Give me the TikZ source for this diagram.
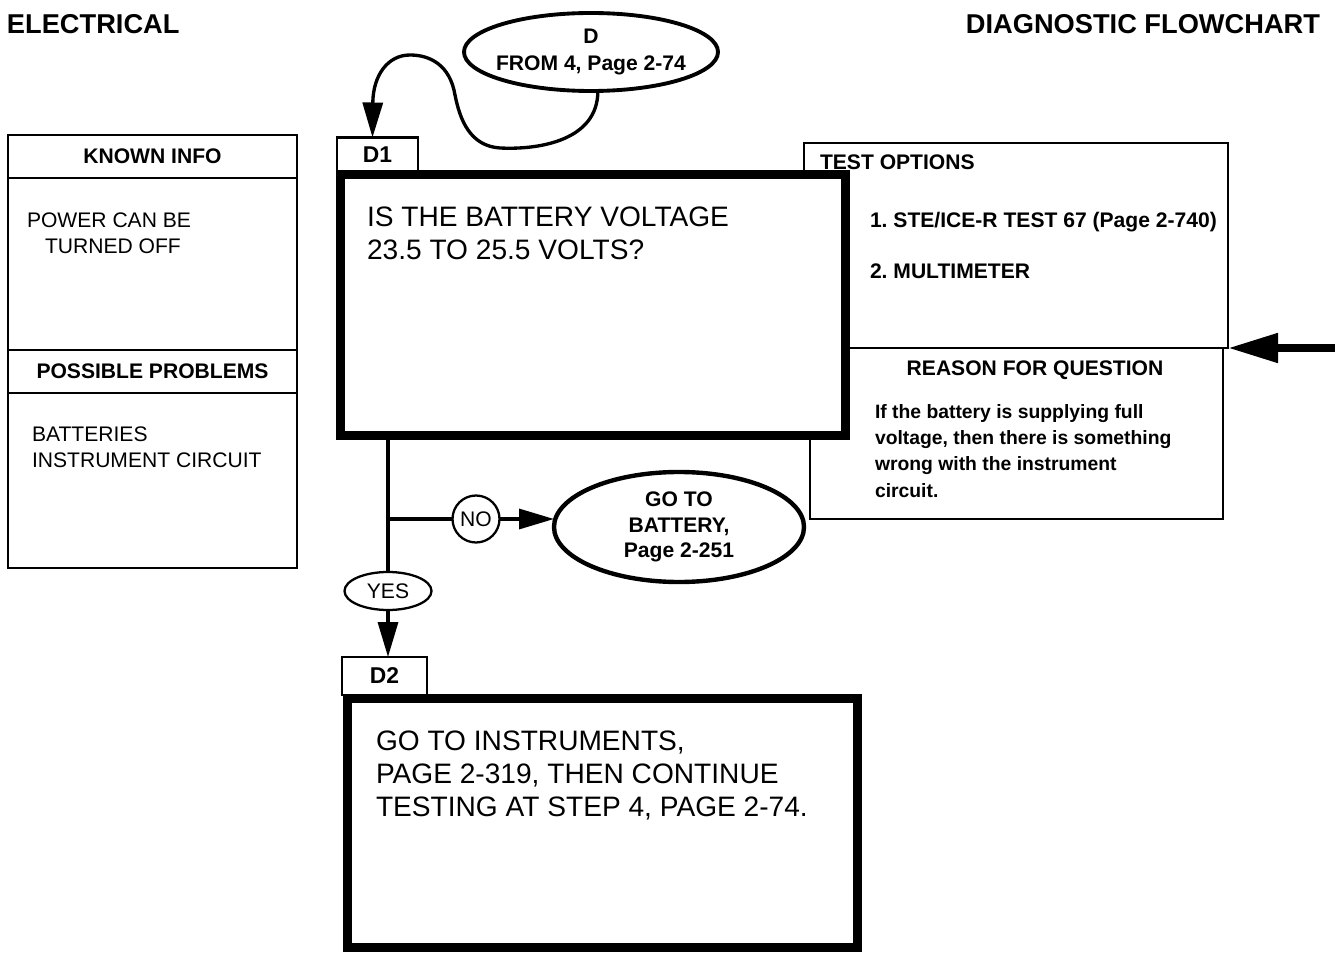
\documentclass[tikz,border=0pt]{standalone}
\usepackage{fontspec}
\setmainfont{Liberation Sans}
\usetikzlibrary{arrows.meta, positioning, shapes.geometric}

\newcommand{\fsz}[2]{\fontsize{#1}{#2}\selectfont}

\begin{document}
\begin{tikzpicture}[
        x=0.2mm, y=-0.2mm,
        every node/.style={align=center, inner sep=0pt, outer sep=0pt},
        heading/.style={font=\bfseries\fsz{15.5}{18}},
        question/.style={rectangle, draw, line width=5pt, fill=white},
        steptab/.style={rectangle, draw, line width=1.4pt, fill=white,
                        font=\bfseries\fsz{13}{15}},
        infobox/.style={rectangle, draw, line width=1.3pt, fill=white},
        infohead/.style={font=\bfseries\fsz{12}{14}},
        infotext/.style={font=\fsz{12}{14.7}, align=left},
        bigtext/.style={font=\fsz{16}{18.7}, align=left},
        entry/.style={ellipse, draw, line width=2.2pt, fill=white,
                      font=\bfseries\fsz{12}{15.3}},
        answer/.style={ellipse, draw, line width=1.3pt, fill=white,
                       font=\fsz{12}{14}},
        link/.style={line width=1.9pt},
        arrow/.style={line width=1.9pt, -{Triangle[length=7mm, width=4mm]}},
        bigarrow/.style={line width=4.5pt, -{Triangle[length=10mm, width=5.6mm]}}
    ]
        \useasboundingbox (0,0) rectangle (1335,954);

        % Page headings
        \node[heading, anchor=west] (elec) at (7,24) {ELECTRICAL};
        \node[heading, anchor=east] (diag) at (1320,24) {DIAGNOSTIC FLOWCHART};

        % Entry from step 4
        \node[entry, inner xsep=-6pt, minimum width=50.8mm, minimum height=15.6mm]
            (dfrom) at (591,52) {D\\FROM 4, Page 2-74};

        % Left column: known info / possible problems
        \node[infobox, infohead, minimum width=57.8mm, minimum height=8.6mm]
            (knownhd) at (152.5,156.5) {KNOWN INFO};
        \node[infobox, minimum width=57.8mm, minimum height=34.4mm, below=0pt of knownhd] (knownbody) {};
        \node[infobox, infohead, minimum width=57.8mm, minimum height=8.6mm, below=0pt of knownbody]
            (probhd) {POSSIBLE PROBLEMS};
        \node[infobox, minimum width=57.8mm, minimum height=35mm, below=0pt of probhd] (probbody) {};
        \node[infotext, anchor=north west] (knowntxt) at (27,213) {POWER CAN BE\\\hspace*{3.6mm}TURNED OFF};
        \node[infotext, anchor=north west] (probtxt) at (32,427) {BATTERIES\\INSTRUMENT CIRCUIT};

        % Right column: test options / reason for question
        \node[infobox, line width=1.6pt, minimum width=84.8mm, minimum height=41mm] (test) at (1016,245.5) {};
        \node[infobox, line width=1.6pt, minimum width=82.6mm, minimum height=34.2mm] (reason) at (1016.5,433.5) {};
        \node[infohead, anchor=west] (testhd) at (820,162) {TEST OPTIONS};
        \node[infohead, align=left, anchor=north west] (testlist) at (870,212)
            {1.\ STE/ICE-R TEST 67 (Page 2-740)\\[15pt]2.\ MULTIMETER};
        \node[infohead] (reasonhd) at (1035,370) {REASON FOR QUESTION};
        \node[font=\bfseries\fsz{11}{15}, align=left, anchor=north west] (reasontxt) at (875,404)
            {If the battery is supplying full\\voltage, then there is something\\wrong with the instrument\\circuit.};

        % Step D1
        \node[steptab, minimum width=16.2mm, minimum height=7mm] (d1tab) at (377.5,155) {D1};
        \node[question, minimum width=101mm, minimum height=52.2mm] (d1) at (593,305) {};
        \node[bigtext, anchor=north west] (d1txt) at (367,207) {IS THE BATTERY VOLTAGE\\23.5 TO 25.5 VOLTS?};

        % Answers
        \node[answer, circle, minimum size=9.4mm] (no) at (476,519) {NO};
        \node[entry, line width=2.5pt, minimum width=50mm, minimum height=22mm, font=\bfseries\fsz{12}{14.7}]
            (batt) at (679,527) {GO TO\\BATTERY,\\Page 2-251};
        \node[answer, minimum width=17.4mm, minimum height=7.6mm] (yes) at (388,591) {YES};

        % Step D2
        \node[steptab, minimum width=17mm, minimum height=7.6mm] (d2tab) at (384.5,676) {D2};
        \node[question, minimum width=102mm, minimum height=49.8mm] (d2) at (602.5,823) {};
        \node[bigtext, anchor=north west] (d2txt) at (376,731)
            {GO TO INSTRUMENTS,\\PAGE 2-319, THEN CONTINUE\\TESTING AT STEP 4, PAGE 2-74.};

        % --- Arrows ---
        \coordinate (d1in) at ([shift={(-5,0)}]d1tab.north);
        \draw[arrow] (dfrom.-80) .. controls (598,140) and (540,150) .. (500,148)
            .. controls (470,146) and (460,120) .. (455,95)
            .. controls (450,65) and (430,55) .. (410,55)
            .. controls (388,55) and (373,75) .. (d1in);

        \coordinate (d1out) at (yes.north |- d1.south);
        \coordinate (fork) at (yes.north |- no.west);
        \draw[link] (d1out) -- (yes.north);
        \draw[link] (fork) -- (no.west);
        \draw[arrow] (no.east) -- (no.east -| batt.west);
        \draw[arrow] (yes.south) -- (yes.south |- d2tab.north);

        \coordinate (feed) at (1335,348);
        \draw[bigarrow] (feed) -- (test.south east);
    \end{tikzpicture}
\end{document}
